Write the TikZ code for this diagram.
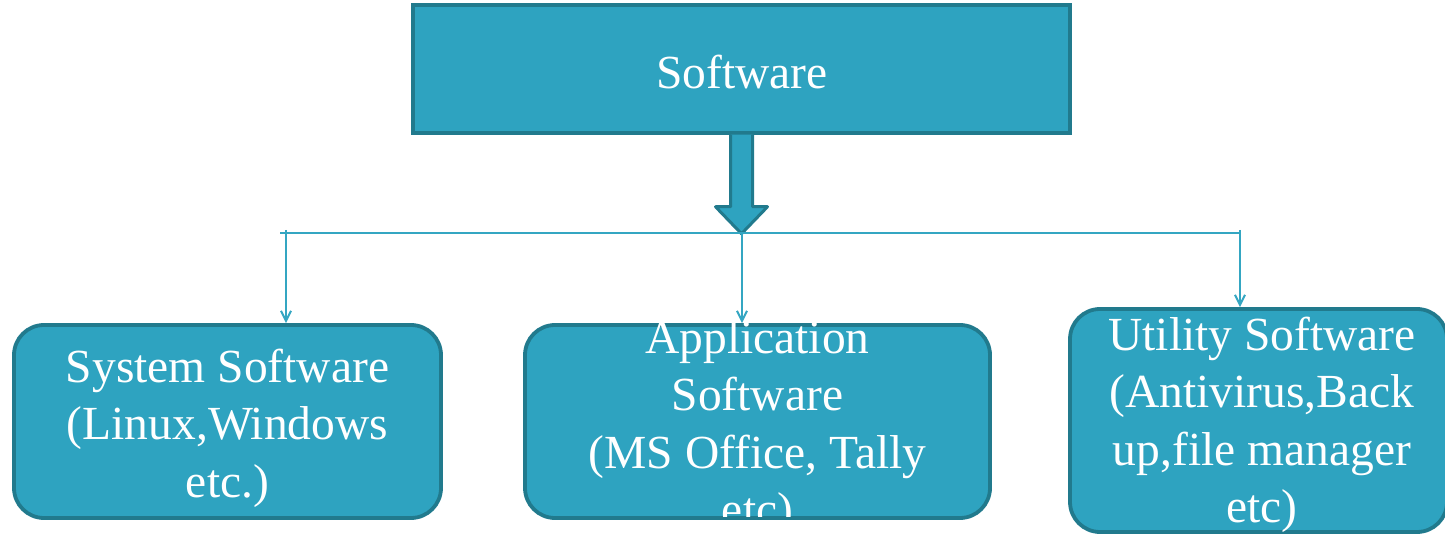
\documentclass[tikz,border=0pt]{standalone}
\usepackage{fontspec}
\setmainfont{Liberation Serif}
\usetikzlibrary{arrows.meta,calc}
\definecolor{boxfill}{HTML}{2EA3C0}
\definecolor{boxedge}{HTML}{217A8D}
\definecolor{wire}{HTML}{34A6C2}
\tikzset{
  topbox/.style={draw=boxedge, fill=boxfill, line width=3.5pt, rectangle,
    minimum width=657pt, minimum height=128pt, inner sep=0pt},
  catbox/.style={draw=boxedge, fill=boxfill, line width=3.8pt, rectangle,
    rounded corners=30pt, inner sep=0pt},
  label/.style={text=white, align=center, inner sep=0pt,
    font=\fontsize{47.5}{57.5}\selectfont},
  wireline/.style={draw=wire, line width=2pt},
  drop/.style={wireline, -{Straight Barb[length=10pt,width=10pt,line width=2pt]}},
}
\begin{document}
\begin{tikzpicture}[x=1pt, y=-1pt]
\useasboundingbox (0,0) rectangle (1445,534);

% top level box
\node[topbox] (sw) at (741.5,69) {};
\node[label] (swt) at (742,72) {Software};

% three category boxes
\node[catbox, minimum width=427pt, minimum height=193pt] (sys) at (227.5,421.5) {};
\node[catbox, minimum width=465pt, minimum height=193pt] (app) at (757.5,421.5) {};
\node[catbox, minimum width=377pt, minimum height=223pt] (utl) at (1258.5,420.5) {};

\node[label] (syst) at (227.5,428) {System Software\\(Linux,Windows\\etc.)};
\begin{scope}
  \clip (500,280) rectangle (1000,516);
  \node[label] (appt) at (757.5,428) {Application\\Software\\(MS Office, Tally\\etc)};
\end{scope}
\node[label] (utlt) at (1262,425) {Utility Software\\(Antivirus,Back\\up,file manager\\etc)};

% block arrow from the top box down to the distribution line
\draw[draw=boxedge, fill=boxfill, line width=3pt, line join=round]
  ($(sw.south)+(-11,0)$) -- ++(0,72) -- ++(-15,0) -- ($(sw.south)+(0,99)$)
  -- ($(sw.south)+(26,72)$) -- ++(-15,0) -- ($(sw.south)+(11,0)$);

% distribution line
\coordinate (busL) at (280,233);
\coordinate (busR) at (1241,233);
\coordinate (dL) at (286,230);
\coordinate (dM) at (742,233);
\coordinate (dR) at (1240,230);
\draw[wireline] (busL) -- (busR);

% drops to each category
\draw[drop] (dL) -- (dL |- sys.north);
\draw[drop] (dM) -- (dM |- app.north);
\draw[drop] (dR) -- (dR |- utl.north);
\end{tikzpicture}
\end{document}
